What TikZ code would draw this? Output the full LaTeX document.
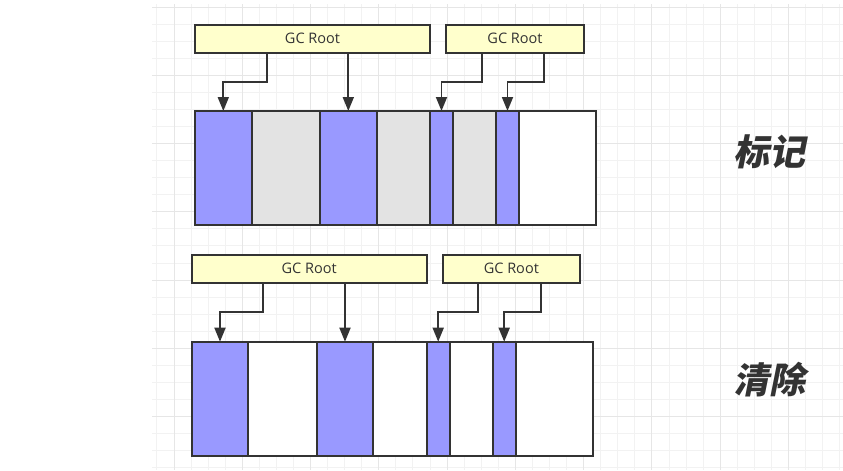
\documentclass[tikz,border=0pt]{standalone}
\usepackage{fontspec}
\setmainfont{Open Sans}
\newfontfamily\cjkfont[FakeSlant=0.2]{Noto Sans CJK SC}
\usetikzlibrary{arrows.meta,positioning}
\definecolor{ink}{HTML}{333333}
\definecolor{liveblue}{HTML}{9999FF}
\definecolor{deadgrey}{HTML}{E3E3E3}
\definecolor{rootyellow}{HTML}{FFFFCC}
\definecolor{gridminor}{HTML}{F2F2F2}
\definecolor{gridmajor}{HTML}{E6E6E6}

\begin{document}
\begin{tikzpicture}[
  x=1pt, y=-1pt,
  every node/.style={outer sep=0pt, text=ink},
  root/.style={
    draw=ink, fill=rootyellow, line width=2pt,
    minimum height=27.6pt, inner sep=0pt,
    font=\fontsize{14.5}{16}\selectfont
  },
  cell/.style={draw=ink, line width=2pt, minimum height=114pt, inner sep=0pt},
  livecell/.style={cell, fill=liveblue},
  deadcell/.style={cell, fill=deadgrey},
  freecell/.style={cell, fill=white},
  ptr/.style={-{Triangle[length=14pt, width=11pt]}, draw=ink, line width=1.8pt},
  phase/.style={font=\cjkfont\bfseries\fontsize{36}{40}\selectfont, text=ink}
]
  \useasboundingbox (0,0) rectangle (843,471);
  \fill[white] (0,0) rectangle (843,471);

  % Background grid
  \foreach \k in {-1,...,39}
    \draw[gridminor, line width=1pt] ({174+17.07*\k},4) -- ({174+17.07*\k},470);
  \foreach \k in {0,...,27}
    \draw[gridminor, line width=1pt] (152,{7+17.07*\k}) -- (843,{7+17.07*\k});
  \foreach \k in {0,...,9}
    \draw[gridmajor, line width=1pt] ({174+68.28*\k},4) -- ({174+68.28*\k},470);
  \foreach \k in {0,...,6}
    \draw[gridmajor, line width=1pt] (152,{7+68.28*\k}) -- (843,{7+68.28*\k});

  % Mark phase: roots
  \node[root, anchor=north west, minimum width=235pt] (tr1) at (195,25) {GC Root};
  \node[root, right=16pt of tr1, minimum width=138pt] (tr2) {GC Root};

  % Mark phase: heap
  \node[livecell, anchor=north west, minimum width=56.6pt] (t1) at (195,111) {};
  \node[deadcell, right=0pt of t1, minimum width=68.4pt] (t2) {};
  \node[livecell, right=0pt of t2, minimum width=56.6pt] (t3) {};
  \node[deadcell, right=0pt of t3, minimum width=53.6pt] (t4) {};
  \node[livecell, right=0pt of t4, minimum width=22.6pt] (t5) {};
  \node[deadcell, right=0pt of t5, minimum width=43.4pt] (t6) {};
  \node[livecell, right=0pt of t6, minimum width=22.6pt] (t7) {};
  \node[freecell, right=0pt of t7, minimum width=77.6pt] (t8) {};

  \draw[ptr] ([xshift=-45.8pt]tr1.south) -- ++(0,29) -| (t1.north);
  \draw[ptr] (tr1.south -| t3.north) -- (t3.north);
  \draw[ptr] ([xshift=-33.3pt]tr2.south) -- ++(0,29) -| (t5.north);
  \draw[ptr] ([xshift=29.3pt]tr2.south) -- ++(0,29) -| (t7.north);

  % Sweep phase: roots
  \node[root, anchor=north west, minimum width=235pt] (br1) at (191.7,255) {GC Root};
  \node[root, right=16pt of br1, minimum width=137.3pt] (br2) {GC Root};

  % Sweep phase: heap
  \node[livecell, anchor=north west, minimum width=56.6pt] (b1) at (191.7,341.7) {};
  \node[freecell, right=0pt of b1, minimum width=68.4pt] (b2) {};
  \node[livecell, right=0pt of b2, minimum width=56.6pt] (b3) {};
  \node[freecell, right=0pt of b3, minimum width=53.6pt] (b4) {};
  \node[livecell, right=0pt of b4, minimum width=22.6pt] (b5) {};
  \node[freecell, right=0pt of b5, minimum width=43.4pt] (b6) {};
  \node[livecell, right=0pt of b6, minimum width=22.6pt] (b7) {};
  \node[freecell, right=0pt of b7, minimum width=77.6pt] (b8) {};

  \draw[ptr] ([xshift=-45.9pt]br1.south) -- ++(0,29) -| (b1.north);
  \draw[ptr] (br1.south -| b3.north) -- (b3.north);
  \draw[ptr] ([xshift=-33pt]br2.south) -- ++(0,29) -| (b5.north);
  \draw[ptr] ([xshift=29.3pt]br2.south) -- ++(0,29) -| (b7.north);

  % Phase labels
  \node[phase] (markLbl) at (769,152) {标记};
  \node[phase] (sweepLbl) at (769,380) {清除};
\end{tikzpicture}
\end{document}
